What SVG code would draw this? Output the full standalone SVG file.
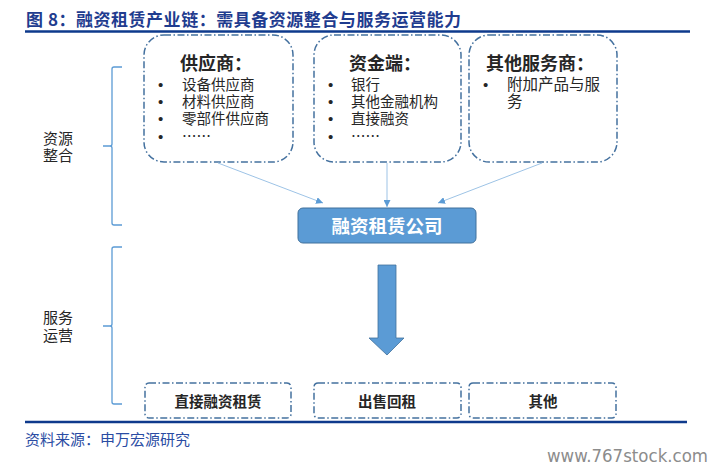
<svg xmlns="http://www.w3.org/2000/svg" width="714" height="473" viewBox="0 0 714 473">
<defs>
<style>
.cjk{font-family:"Noto Sans CJK SC","Liberation Sans",sans-serif;}
.title{font-size:17px;font-weight:700;fill:#1F3C8F;}
.rule{stroke:#0E3A8C;stroke-width:2.5;}
.grp{fill:none;stroke:#44719F;stroke-width:1.5;stroke-dasharray:7 2.5 1.5 2.5;}
.head{font-size:18px;font-weight:700;fill:#262626;}
.item{font-size:14.5px;fill:#262626;}
.bul{font-family:"Liberation Sans",Arial,sans-serif;font-size:15px;fill:#262626;}
.side{font-size:15px;fill:#262626;}
.bot{font-size:14.5px;font-weight:700;fill:#262626;text-anchor:middle;}
.brace{fill:none;stroke:#5B9BD5;stroke-width:1.3;}
.conn{stroke:#9DC3E6;stroke-width:1;fill:none;}
</style>
<marker id="ah" viewBox="0 0 10 10" refX="10" refY="5" markerWidth="7" markerHeight="7" markerUnits="userSpaceOnUse" orient="auto">
<path d="M0,0 L10,5 L0,10 z" fill="#5B9BD5"/>
</marker>
</defs>
<rect width="714" height="473" fill="#FFFFFF"/>

<text class="cjk title" x="26" y="26" textLength="435" lengthAdjust="spacing">图 8：融资租赁产业链：需具备资源整合与服务运营能力</text>
<line class="rule" x1="25" y1="31.5" x2="690" y2="31.5"/>

<g id="brace-resource">
<path class="brace" d="M122,67 L114,67 Q112,67 112,69 L112,144 Q112,146 110,146 L103,146 M110,146 Q112,146 112,148 L112,223 Q112,225 114,225 L122,225"/>
<text class="cjk side" x="43" y="144">资源</text>
<text class="cjk side" x="43" y="161">整合</text>
</g>

<g id="brace-service">
<path class="brace" d="M122,247 L114,247 Q112,247 112,249 L112,324 Q112,326 110,326 L103,326 M110,326 Q112,326 112,328 L112,402 Q112,404 114,404 L122,404"/>
<text class="cjk side" x="43" y="323">服务</text>
<text class="cjk side" x="43" y="341">运营</text>
</g>

<g id="supplier">
<rect class="grp" x="144" y="35" width="149" height="127" rx="20"/>
<text class="cjk head" x="180" y="70">供应商：</text>
<text class="bul" x="158" y="90">•</text>
<text class="cjk item" x="182" y="90">设备供应商</text>
<text class="bul" x="158" y="107">•</text>
<text class="cjk item" x="182" y="107">材料供应商</text>
<text class="bul" x="158" y="124">•</text>
<text class="cjk item" x="182" y="124">零部件供应商</text>
<text class="bul" x="158" y="142">•</text>
<text class="cjk item" x="182" y="142">……</text>
</g>

<g id="capital">
<rect class="grp" x="314" y="35" width="147" height="127" rx="20"/>
<text class="cjk head" x="349" y="70">资金端：</text>
<text class="bul" x="328" y="90">•</text>
<text class="cjk item" x="351" y="90">银行</text>
<text class="bul" x="328" y="107">•</text>
<text class="cjk item" x="351" y="107">其他金融机构</text>
<text class="bul" x="328" y="124">•</text>
<text class="cjk item" x="351" y="124">直接融资</text>
<text class="bul" x="328" y="142">•</text>
<text class="cjk item" x="351" y="142">……</text>
</g>

<g id="other-services">
<rect class="grp" x="469" y="35" width="148" height="127" rx="20"/>
<text class="cjk head" x="486" y="70">其他服务商：</text>
<text class="bul" x="483" y="90">•</text>
<text class="cjk item" x="507" y="90" style="font-size:15.5px">附加产品与服</text>
<text class="cjk item" x="507" y="107" style="font-size:15.5px">务</text>
</g>

<g id="connectors">
<line class="conn" x1="218" y1="163" x2="323" y2="203" marker-end="url(#ah)"/>
<line class="conn" x1="387" y1="163" x2="387" y2="207" marker-end="url(#ah)"/>
<line class="conn" x1="542" y1="163" x2="438" y2="203" marker-end="url(#ah)"/>
<path d="M378,265 L396,265 L396,338 L404,338 L387,355 L369,338 L378,338 Z" fill="#5B9BD5" stroke="#41719C" stroke-width="0.8"/>
</g>

<g id="leasing-company">
<rect x="298" y="208" width="178" height="35" rx="5" fill="#5B9BD5" stroke="#41719C" stroke-width="1"/>
<text class="cjk" x="387" y="233" text-anchor="middle" style="font-size:18.5px;font-weight:700;fill:#FFFFFF">融资租赁公司</text>
</g>

<g id="direct-leasing">
<rect class="grp" x="145" y="383" width="146" height="35" rx="4"/>
<text class="cjk bot" x="218" y="407">直接融资租赁</text>
</g>

<g id="sale-leaseback">
<rect class="grp" x="314" y="383" width="147" height="35" rx="4"/>
<text class="cjk bot" x="387" y="407">出售回租</text>
</g>

<g id="others">
<rect class="grp" x="469" y="383" width="147" height="35" rx="4"/>
<text class="cjk bot" x="543" y="407">其他</text>
</g>

<line class="rule" x1="25" y1="422" x2="687" y2="422"/>
<text class="cjk" x="25" y="445" style="font-size:15px;fill:#2A4CA3">资料来源：申万宏源研究</text>
<text x="547" y="462" textLength="161" lengthAdjust="spacingAndGlyphs" style="font-family:'DejaVu Sans','Liberation Sans',sans-serif;font-size:17px;fill:#8C8C8C">www.767stock.com</text>
</svg>
